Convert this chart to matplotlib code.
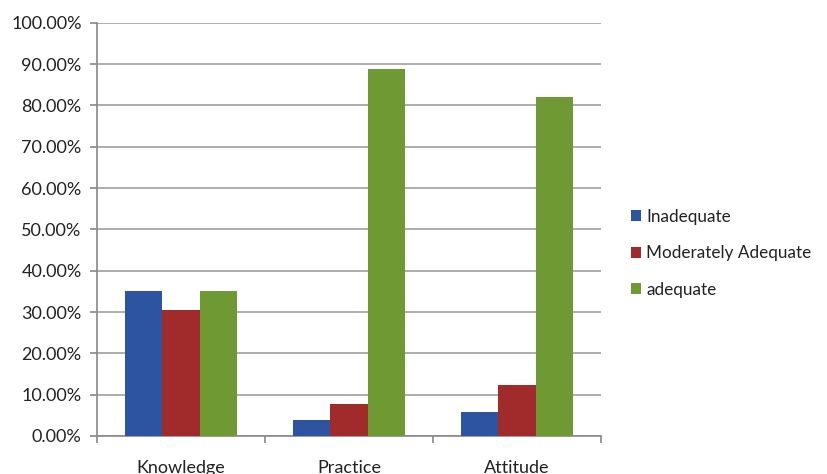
import matplotlib
matplotlib.use("Agg")
import matplotlib.pyplot as plt
import numpy as np
from matplotlib.ticker import FuncFormatter, MultipleLocator

categories = ["Knowledge", "Practice", "Attitude"]
series_names = ["Inadequate", "Moderately Adequate", "adequate"]
inadequate = [35.0, 3.9, 5.9]
moderately_adequate = [30.4, 7.7, 12.3]
adequate = [35.0, 88.7, 82.0]
colors = ["#2C54A0", "#A12B2B", "#6F9A33"]

plt.rcParams['font.family'] = ['Lato', 'DejaVu Sans']
FS = 13.0

fig = plt.figure(figsize=(8.27, 4.74), dpi=100)
ax = fig.add_axes([97/827, 1-436/474, (601-97)/827, (436-22.7)/474])

x = np.arange(len(categories))
w = 0.224
for i, (name, vals) in enumerate(zip(series_names, [inadequate, moderately_adequate, adequate])):
    ax.bar(x + (i-1)*w, vals, width=w, color=colors[i], label=name, zorder=3)

ax.set_xlim(-0.5, 2.5)
ax.set_ylim(0, 100)
ax.yaxis.set_major_locator(MultipleLocator(10))
ax.yaxis.set_major_formatter(FuncFormatter(lambda v, p: f"{v:.2f}%"))
ax.grid(axis='y', color='#A0A0A0', linewidth=1.2, zorder=0)
ax.set_xticks([-0.5, 0.5, 1.5, 2.5])
ax.set_xticklabels([])
ax.set_xticks(x, minor=True)
ax.set_xticklabels(categories, minor=True)
ax.tick_params(axis='x', which='minor', length=0, pad=17, labelsize=FS, labelcolor='#222222')
ax.tick_params(axis='x', which='major', length=5, color='#888888', width=1.2)
ax.tick_params(axis='y', length=5, color='#888888', width=1.2, labelsize=FS, labelcolor='#222222', pad=6)
for s in ['top', 'right']:
    ax.spines[s].set_visible(False)
for s in ['left', 'bottom']:
    ax.spines[s].set_color('#888888')
    ax.spines[s].set_linewidth(1.2)

leg = fig.legend(loc='upper left', bbox_to_anchor=(624/827, 1-202/474), frameon=False,
                 fontsize=12.3, handlelength=0.6, handleheight=0.6, handletextpad=0.3,
                 labelspacing=1.2, borderaxespad=0)
for t in leg.get_texts():
    t.set_color('#222222')

fig.savefig("out.png", dpi=100)
